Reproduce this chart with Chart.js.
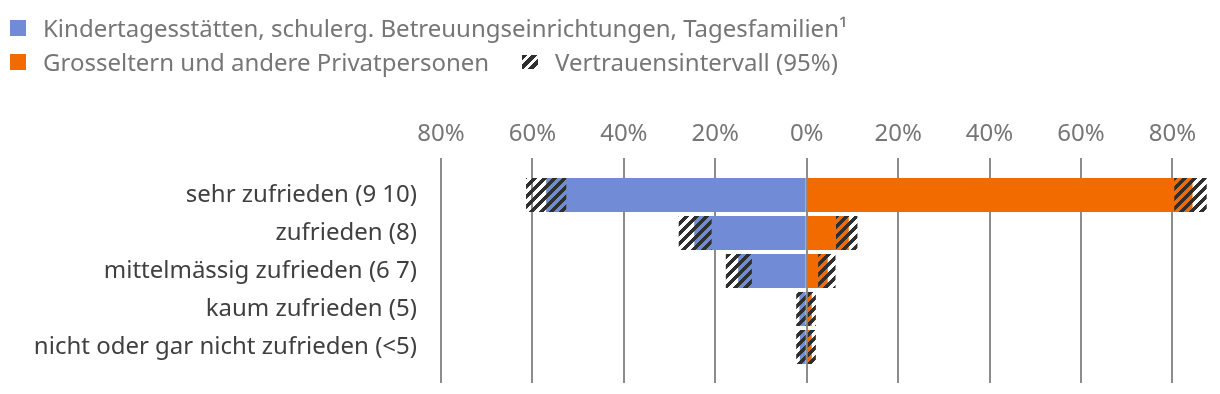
<!DOCTYPE html>
<html>
<head>
<meta charset="utf-8">
<script src="https://cdn.jsdelivr.net/npm/chart.js@4"></script>
<style>
  body { margin: 0; background: #fff; font-family: "Noto Sans", sans-serif; }
  #wrap { position: relative; width: 1220px; height: 394px; }
  #chart { position: absolute; left: 0; top: 0; }
  .lg { position: absolute; white-space: nowrap; font-size: 24px; line-height: 30px; color: #767676; }
  .box { position: absolute; width: 16px; height: 16px; }
  .hatch { background: repeating-linear-gradient(135deg, #2f2f2f 0 4px, transparent 4px 7px); }
</style>
</head>
<body>
<div id="wrap">
  <canvas id="chart" width="1220" height="394"></canvas>
  <div class="box" style="left:10px;top:20px;background:#728bd6"></div>
  <div class="lg" style="left:43px;top:13px">Kindertagesstätten, schulerg. Betreuungseinrichtungen, Tagesfamilien¹</div>
  <div class="box" style="left:10px;top:54px;background:#f26b00"></div>
  <div class="lg" style="left:43px;top:47px">Grosseltern und andere Privatpersonen</div>
  <div class="box hatch" style="left:522px;top:55px;height:14px"></div>
  <div class="lg" style="left:555px;top:47px">Vertrauensintervall (95%)</div>
</div>
<script>
// satisfaction levels
const categories = [
  'sehr zufrieden (9 10)',
  'zufrieden (8)',
  'mittelmässig zufrieden (6 7)',
  'kaum zufrieden (5)',
  'nicht oder gar nicht zufrieden (<5)'
];

// Kindertagesstätten etc. (drawn to the left)
const kitaValue = [57.0, 24.6, 15.0, 1.6, 1.5];
const kitaLow   = [52.6, 20.8, 12.0, 0, 0];
const kitaHigh  = [61.4, 28.0, 17.7, 2.3, 2.3];

// Grosseltern und andere Privatpersonen (drawn to the right)
const privValue = [84.4, 9.2, 4.6, 1.1, 1.1];
const privLow   = [80.4, 6.4, 2.5, 0, 0];
const privHigh  = [87.5, 11.1, 6.3, 2.0, 2.0];

const xTicks = [-80, -60, -40, -20, 0, 20, 40, 60, 80];

const blue = '#728bd6';
const orange = '#f26b00';
const gridGrey = '#8c8c8c';

Chart.defaults.font.family = '"Noto Sans", sans-serif';

// diagonal stripes for the confidence interval
function makeHatch() {
  const size = 10, dark = 5;
  const c = document.createElement('canvas');
  c.width = size; c.height = size;
  const g = c.getContext('2d');
  g.fillStyle = '#2f2f2f';
  for (let y = 0; y < size; y++) {
    for (let x = 0; x < size; x++) {
      if ((x + y) % size < dark) g.fillRect(x, y, 1, 1);
    }
  }
  return g.createPattern(c, 'repeat');
}
const hatch = makeHatch();

const setTicks = axis => { axis.ticks = xTicks.map(v => ({ value: v })); };

new Chart(document.getElementById('chart'), {
  type: 'bar',
  data: {
    labels: categories,
    datasets: [
      { label: 'Kita', data: kitaValue.map(v => -v), backgroundColor: blue, order: 2 },
      { label: 'Privat', data: privValue, backgroundColor: orange, order: 2 },
      { label: 'CI Kita', data: kitaLow.map((l, i) => [-kitaHigh[i], -l]), backgroundColor: hatch, order: 1 },
      { label: 'CI Privat', data: privLow.map((l, i) => [l, privHigh[i]]), backgroundColor: hatch, order: 1 }
    ]
  },
  options: {
    indexAxis: 'y',
    responsive: false,
    animation: false,
    layout: { padding: { top: 0, left: 0, right: 11, bottom: 11 } },
    datasets: {
      bar: { grouped: false, barPercentage: 34 / 38, categoryPercentage: 1, xAxisID: 'x', borderWidth: 0 }
    },
    plugins: { legend: { display: false }, tooltip: { enabled: false } },
    scales: {
      x: {
        type: 'linear', position: 'top', min: -80, max: 88,
        afterBuildTicks: setTicks,
        afterFit: a => { a.height = 176; },
        grid: { color: gridGrey, lineWidth: 2, tickLength: 18 },
        border: { display: false },
        ticks: {
          padding: 9, color: '#767676', font: { size: 24 },
          maxRotation: 0, autoSkip: false,
          callback: v => Math.abs(v) + '%'
        }
      },
      xb: {
        type: 'linear', position: 'bottom', min: -80, max: 88,
        afterBuildTicks: setTicks,
        afterFit: a => { a.height = 17; },
        grid: { color: gridGrey, lineWidth: 2, tickLength: 17, drawOnChartArea: false },
        border: { display: false },
        ticks: { display: false }
      },
      xz: {
        type: 'linear', position: 'top', min: -80, max: 88, z: 1,
        afterBuildTicks: a => { a.ticks = [{ value: 0 }]; },
        afterFit: a => { a.height = 0; },
        grid: { color: gridGrey, lineWidth: 2, drawTicks: false },
        border: { display: false },
        ticks: { display: false }
      },
      y: {
        afterFit: a => { a.width = 441; a.paddingTop = 0; a.paddingBottom = 0; },
        grid: { display: false, drawTicks: false },
        border: { display: false },
        ticks: { padding: 24, color: '#404040', font: { size: 24 } }
      }
    }
  }
});
</script>
</body>
</html>
